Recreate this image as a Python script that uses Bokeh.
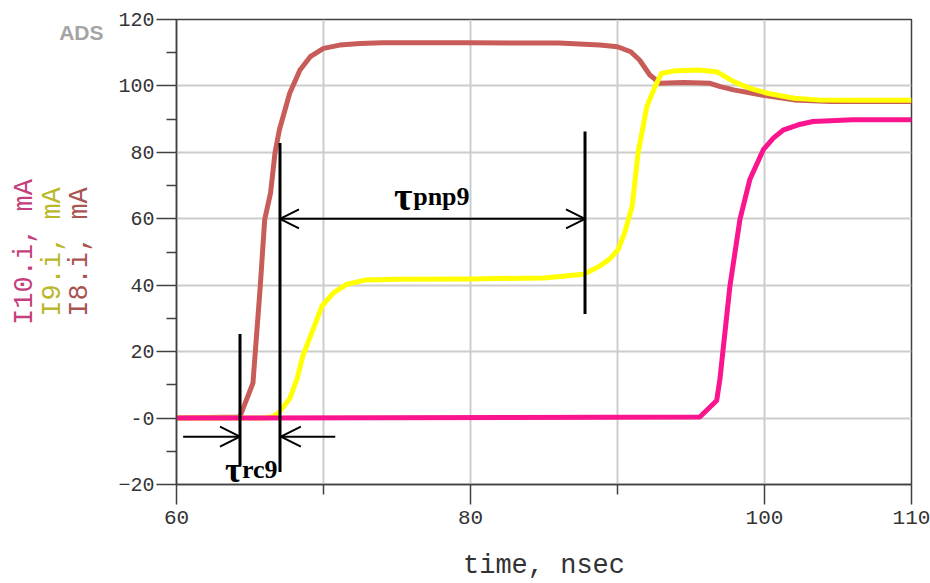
from bokeh.plotting import figure
from bokeh.models import Range1d, FixedTicker, Label, Arrow, OpenHead, LinearAxis
from bokeh.embed import file_html
from bokeh.resources import INLINE

# ---------------- data ----------------
t_i8 = [60, 64.3, 65.2, 65.7, 66.0, 66.4, 66.7, 67.0, 67.7, 68.4, 69.1, 70.0, 71.1,
        72.5, 74, 80, 86, 88.8, 90.0, 90.9, 91.5, 92.2, 92.9, 94.5, 96.3, 97.0,
        97.9, 99.9, 102.0, 104.5, 110]
i8 = [0, 0.3, 10.5, 39.8, 59.8, 67.8, 79.8, 86.8, 97.8, 104.8, 108.8, 111.3, 112.3,
      112.8, 113.0, 113.0, 112.9, 112.3, 111.8, 110.3, 107.8, 103.3, 100.8, 101.0,
      100.8, 99.8, 98.8, 97.2, 95.8, 95.3, 95.3]

t_i9 = [60, 66.0, 66.6, 67.0, 67.7, 68.2, 68.6, 69.3, 69.9, 70.7, 71.6, 72.9, 75, 80,
        85, 87.7, 88.8, 89.5, 90.05, 90.5, 91.0, 91.4, 92.0, 92.55, 93.0, 94.0, 95.5,
        96.75, 97.9, 99.0, 100.2, 102.0, 103.6, 106, 110]
i9 = [0, 0, 0.5, 1.8, 5.8, 11.8, 18.8, 26.8, 33.8, 37.8, 40.3, 41.6, 41.8, 41.9,
      42.2, 43.3, 45.8, 48.0, 50.8, 56.0, 63.8, 79.8, 93.8, 99.8, 103.8, 104.6, 104.8,
      104.3, 101.3, 99.3, 97.8, 96.3, 95.8, 95.7, 95.7]

t_i10 = [60, 95.6, 96.75, 96.97, 97.65, 98.33, 99.0, 99.92, 100.6, 101.3, 102.3,
         103.3, 106, 110]
i10 = [0, 0.3, 5.3, 11.8, 39.8, 59.8, 71.8, 80.8, 84.3, 86.8, 88.3, 89.3, 89.8, 89.8]

x_major = [60, 80, 100, 110]
x_minor = [70, 90]
x_grid = [60, 70, 80, 90, 100, 110]
y_major = [-20, 0, 20, 40, 60, 80, 100, 120]
y_minor = [-10, 10, 30, 50, 70, 90, 110]
y_label_overrides = {0: "-0"}

series_labels = ["I8.i, mA", "I9.i, mA", "I10.i, mA"]
series_label_colors = ["#a85450", "#b8b82a", "#c4407c"]
x_title = "time, nsec"
logo_text = "ADS"

# annotation marks (time, value)
vline_t = [64.32, 67.04, 87.79]
vline_v0 = [25.3, 82.8, 86.3]
vline_v1 = [-14.2, -16.2, 31.3]

# ---------------- figure ----------------
p = figure(width=930, height=583, output_backend="svg", toolbar_location=None,
           x_range=Range1d(60, 110), y_range=Range1d(-20, 120),
           min_border_left=176, min_border_right=19, min_border_top=19,
           min_border_bottom=98)
p.background_fill_color = "white"
p.border_fill_color = "white"
p.outline_line_color = "#404040"
p.outline_line_width = 1.5

mono = "Liberation Mono"
serif = "Liberation Serif"

xa = p.xaxis[0]
xa.ticker = FixedTicker(ticks=x_major, minor_ticks=x_minor)
xa.major_tick_out = 20
xa.major_tick_in = 0
xa.minor_tick_out = 10
xa.minor_tick_in = 0
xa.major_label_standoff = 6
xa.major_label_text_font = mono
xa.major_label_text_font_size = "21px"
xa.major_label_text_color = "#333333"
xa.axis_label = x_title
xa.axis_label_text_font = mono
xa.axis_label_text_font_size = "27px"
xa.axis_label_text_font_style = "normal"
xa.axis_label_text_color = "#333333"
xa.axis_label_standoff = 24
xa.axis_line_color = "#404040"
xa.axis_line_width = 1.5
xa.major_tick_line_color = "#404040"
xa.major_tick_line_width = 1.5
xa.minor_tick_line_color = "#404040"
xa.minor_tick_line_width = 1.5

ya = p.yaxis[0]
ya.ticker = FixedTicker(ticks=y_major, minor_ticks=y_minor)
ya.major_label_overrides = y_label_overrides
ya.major_tick_out = 20
ya.major_tick_in = 0
ya.minor_tick_out = 10
ya.minor_tick_in = 0
ya.major_label_standoff = 2
ya.major_label_text_font = mono
ya.major_label_text_font_size = "20px"
ya.major_label_text_color = "#333333"
ya.axis_line_color = "#404040"
ya.axis_line_width = 1.5
ya.major_tick_line_color = "#404040"
ya.major_tick_line_width = 1.5
ya.minor_tick_line_color = "#404040"
ya.minor_tick_line_width = 1.5

# extra left axes that carry only the per-trace titles (and the logo text)
standoffs = [-39, -5, -5]
for i, (txt, col, so) in enumerate(zip(series_labels, series_label_colors, standoffs)):
    if i == 0:
        tk = FixedTicker(ticks=[116], minor_ticks=[])
    else:
        tk = FixedTicker(ticks=[], minor_ticks=[])
    ax = LinearAxis(ticker=tk, axis_label=txt,
                    axis_label_standoff=so,
                    axis_label_text_font=mono,
                    axis_label_text_font_size="27px",
                    axis_label_text_font_style="normal",
                    axis_label_text_color=col,
                    axis_line_color=None,
                    major_tick_line_color=None, minor_tick_line_color=None,
                    major_tick_out=0, major_tick_in=0,
                    minor_tick_out=0, minor_tick_in=0)
    if i == 0:
        ax.major_label_overrides = {116: logo_text}
        ax.major_label_standoff = 12
        ax.major_label_text_font = "Liberation Sans"
        ax.major_label_text_font_style = "bold"
        ax.major_label_text_font_size = "21px"
        ax.major_label_text_color = "#a4a4a4"
    p.add_layout(ax, "left")

p.xgrid[0].ticker = FixedTicker(ticks=x_grid)
p.ygrid[0].ticker = FixedTicker(ticks=y_major)
for g in (p.xgrid[0], p.ygrid[0]):
    g.grid_line_color = "#cccccc"
    g.grid_line_width = 2

# ---------------- curves ----------------
p.line(t_i8, i8, line_color="#c85c58", line_width=5, line_join="round")
p.line(t_i9, i9, line_color="#ffff00", line_width=5, line_join="round")
p.line(t_i10, i10, line_color="#fa148e", line_width=5, line_join="round")

# ---------------- annotations ----------------
p.segment(x0=vline_t, y0=vline_v0, x1=vline_t, y1=vline_v1,
          line_color="black", line_width=3)

p.add_layout(Arrow(x_start=67.04, y_start=60, x_end=87.79, y_end=60,
                   start=OpenHead(size=19, line_width=2, line_color="black"),
                   end=OpenHead(size=19, line_width=2, line_color="black"),
                   line_width=2, line_color="black"))
p.add_layout(Arrow(x_start=60.45, y_start=-5.6, x_end=64.32, y_end=-5.6,
                   end=OpenHead(size=20, line_width=2, line_color="black"),
                   line_width=2, line_color="black"))
p.add_layout(Arrow(x_start=70.8, y_start=-5.6, x_end=67.1, y_end=-5.6,
                   end=OpenHead(size=20, line_width=2, line_color="black"),
                   line_width=2, line_color="black"))

p.add_layout(Label(x=74.8, y=66.6, text="τ", text_font=serif,
                   text_font_style="bold", text_font_size="40px",
                   text_baseline="alphabetic", text_color="black"))
p.add_layout(Label(x=76.1, y=66.6, text="pnp9", text_font=serif,
                   text_font_style="bold", text_font_size="26px",
                   text_baseline="alphabetic", text_color="black"))
p.add_layout(Label(x=63.3, y=-15.5, text="τ", text_font=serif,
                   text_font_style="bold", text_font_size="36px",
                   text_baseline="alphabetic", text_color="black"))
p.add_layout(Label(x=64.45, y=-15.5, text="rc9", text_font=serif,
                   text_font_style="bold", text_font_size="26px",
                   text_baseline="alphabetic", text_color="black"))

open("out.html", "w").write(file_html(p, INLINE))
